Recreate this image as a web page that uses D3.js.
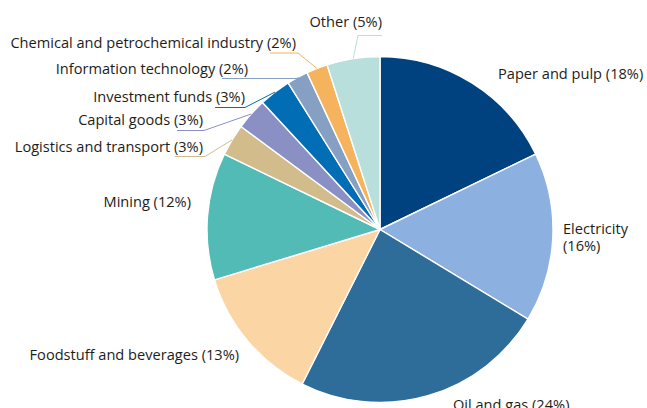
<!DOCTYPE html>
<html>
<head>
<meta charset="utf-8">
<script src="https://cdn.jsdelivr.net/npm/d3@7"></script>
<style>
  html, body { margin: 0; padding: 0; background: #fff; }
  svg { display: block; }
  text { font-family: "Open Sans", "Noto Sans", sans-serif; font-size: 14.6px; fill: #1d1d1b; }
</style>
</head>
<body>
<svg id="chart" width="647" height="408"></svg>
<script>
// Sectors, clockwise from twelve o'clock
const sectors = [
  "Paper and pulp", "Electricity", "Oil and gas", "Foodstuff and beverages",
  "Mining", "Logistics and transport", "Capital goods", "Investment funds",
  "Information technology", "Chemical and petrochemical industry", "Other"
];
const shares = [18, 16, 24, 13, 12, 3, 3, 3, 2, 2, 5];
const colours = [
  "#00427f", "#8cb0df", "#2e6c99", "#fcd5a4",
  "#52bbb6", "#d2bc8c", "#8a90c3", "#006db5",
  "#86a0c3", "#f6b35e", "#b8dfdb"
];

// Label placement: anchor point, text anchor, and the elbow of the leader line
const labelLayout = [
  { x: 498, y: 78.5,  anchor: "start", lines: 1 },
  { x: 563, y: 233.5, anchor: "start", lines: 2 },
  { x: 453, y: 409.5, anchor: "start", lines: 1 },
  { x: 239, y: 359.5, anchor: "end",   lines: 1 },
  { x: 191, y: 207,   anchor: "end",   lines: 1 },
  { x: 203, y: 151.5, anchor: "end",   lines: 1, lead: [175, 205, 156.5] },
  { x: 203, y: 124.5, anchor: "end",   lines: 1, lead: [177, 204, 130.5] },
  { x: 245, y: 102,   anchor: "end",   lines: 1, lead: [215, 245, 107.5] },
  { x: 248, y: 74,    anchor: "end",   lines: 1, lead: [222, 299, 78.5] },
  { x: 296, y: 48,    anchor: "end",   lines: 1, lead: [270, 298, 53] },
  { x: 382, y: 27,    anchor: "end",   lines: 1, lead: [382, 358, 35.5] }
];

const cx = 380, cy = 229.5, radius = 173;

const svg = d3.select("#chart");
const g = svg.append("g").attr("transform", `translate(${cx},${cy})`);

const data = sectors.map((name, i) => ({ name, value: shares[i], color: colours[i], layout: labelLayout[i] }));

const pie = d3.pie().value(d => d.value).sort(null);
const arc = d3.arc().innerRadius(0).outerRadius(radius);
const arcs = pie(data);

g.selectAll("path.slice")
  .data(arcs)
  .join("path")
  .attr("class", "slice")
  .attr("d", arc)
  .attr("fill", d => d.data.color)
  .attr("stroke", "#ffffff")
  .attr("stroke-width", 1.4)
  .attr("stroke-linejoin", "round");

// Leader lines for the narrow slices
const leaders = arcs.filter(d => d.data.layout.lead);
svg.selectAll("path.leader")
  .data(leaders)
  .join("path")
  .attr("class", "leader")
  .attr("fill", "none")
  .attr("stroke", d => d.data.color)
  .attr("stroke-width", 1)
  .attr("d", d => {
    const mid = (d.startAngle + d.endAngle) / 2;
    const px = cx + radius * Math.sin(mid);
    const py = cy - radius * Math.cos(mid);
    const [x0, x1, y] = d.data.layout.lead;
    return d3.line()([[x0, y], [x1, y], [px, py]]);
  });

// Labels
const labels = svg.selectAll("text.label")
  .data(arcs)
  .join("text")
  .attr("class", "label")
  .attr("x", d => d.data.layout.x)
  .attr("y", d => d.data.layout.y)
  .attr("text-anchor", d => d.data.layout.anchor);

labels.each(function(d) {
  const t = d3.select(this);
  const pct = `(${d.data.value}%)`;
  if (d.data.layout.lines === 2) {
    t.append("tspan").attr("x", d.data.layout.x).text(d.data.name);
    t.append("tspan").attr("x", d.data.layout.x).attr("dy", 17).text(pct);
  } else {
    t.text(`${d.data.name} ${pct}`);
  }
});
</script>
</body>
</html>
